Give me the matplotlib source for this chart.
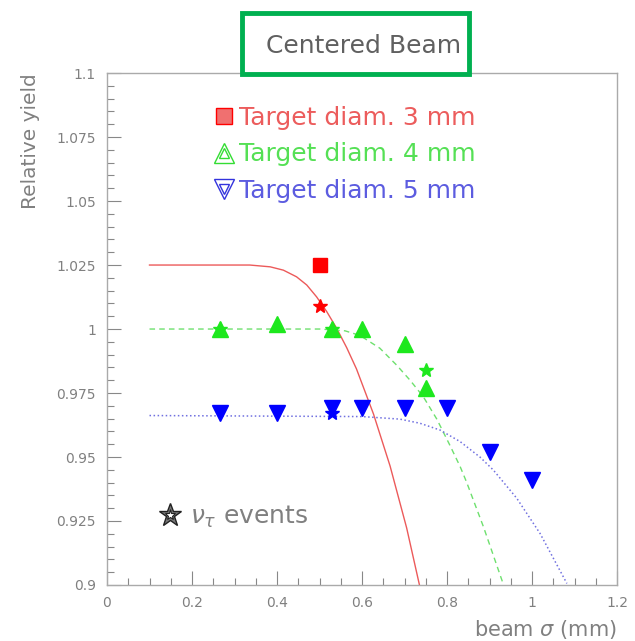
import matplotlib
matplotlib.use("Agg")
import matplotlib.pyplot as plt
from matplotlib.lines import Line2D
from matplotlib.patches import Rectangle
from matplotlib.ticker import MultipleLocator, FormatStrFormatter
from matplotlib.legend_handler import HandlerTuple

plt.rcParams['font.family'] = ['DejaVu Sans']

# measured points (beam sigma in mm, relative yield)
d3_x = [0.50]
d3_y = [1.025]
d3_star_x = [0.50]
d3_star_y = [1.009]

d4_x = [0.265, 0.40, 0.53, 0.60, 0.70, 0.75]
d4_y = [1.000, 1.002, 1.000, 1.000, 0.994, 0.977]
d4_star_x = [0.265, 0.53, 0.75]
d4_star_y = [1.000, 1.000, 0.984]

d5_x = [0.265, 0.40, 0.53, 0.60, 0.70, 0.80, 0.90, 1.00]
d5_y = [0.967, 0.967, 0.969, 0.969, 0.969, 0.969, 0.952, 0.941]
d5_star_x = [0.53]
d5_star_y = [0.967]

# fitted curves
fit3_x = [0.10, 0.336, 0.384, 0.415, 0.446, 0.470, 0.493, 0.517, 0.540, 0.564,
          0.587, 0.627, 0.666, 0.705, 0.735]
fit3_y = [1.025, 1.025, 1.0243, 1.023, 1.0204, 1.0172, 1.0126, 1.0068, 1.0004, 0.9927,
          0.9844, 0.9668, 0.9465, 0.9223, 0.9001]

fit4_x = [0.10, 0.50, 0.56, 0.595, 0.642, 0.682, 0.713, 0.744, 0.776, 0.807,
          0.831, 0.846, 0.886, 0.932]
fit4_y = [1.000, 1.000, 0.9993, 0.9975, 0.9925, 0.9858, 0.980, 0.9736, 0.9648, 0.9545,
          0.9462, 0.9402, 0.9226, 0.9005]

fit5_x = [0.10, 0.60, 0.689, 0.736, 0.784, 0.831, 0.878, 0.909, 0.964, 1.019, 1.082]
fit5_y = [0.9662, 0.9658, 0.9648, 0.9632, 0.9605, 0.9560, 0.9499, 0.9449, 0.9339,
          0.9201, 0.9006]

c_red, c_green, c_blue = '#ff0000', '#1ee81e', '#0000ff'

fig = plt.figure(figsize=(6.35, 6.41), dpi=100)
ax = fig.add_axes([0.1685, 0.0874, 0.8032, 0.7986])

ax.plot(fit3_x, fit3_y, '-', color='#ec5a5a', lw=1.0)
ax.plot(fit4_x, fit4_y, '--', color='#6ee06e', lw=1.0, dashes=(4, 3))
ax.plot(fit5_x, fit5_y, ':', color='#7070e0', lw=1.1)

ax.plot(d3_x, d3_y, 's', color=c_red, ms=10, ls='none')
ax.plot(d4_x, d4_y, '^', color=c_green, ms=11, ls='none')
ax.plot(d5_x, d5_y, 'v', color=c_blue, ms=11, ls='none')
ax.plot(d3_star_x, d3_star_y, '*', color=c_red, ms=10, ls='none')
ax.plot(d4_star_x, d4_star_y, '*', color=c_green, ms=10, ls='none')
ax.plot(d5_star_x, d5_star_y, '*', color=c_blue, ms=10, ls='none')

ax.set_xlim(0, 1.2)
ax.set_ylim(0.9, 1.1)
ax.xaxis.set_major_locator(MultipleLocator(0.2))
ax.xaxis.set_minor_locator(MultipleLocator(0.05))
ax.yaxis.set_major_locator(MultipleLocator(0.025))
ax.yaxis.set_minor_locator(MultipleLocator(0.005))
ax.xaxis.set_major_formatter(FormatStrFormatter('%g'))
ax.yaxis.set_major_formatter(FormatStrFormatter('%g'))
ax.tick_params(which='both', direction='in', colors='#888888', labelcolor='#808080',
               labelsize=10, top=False, right=False)
ax.tick_params(which='major', length=10, width=0.8, pad=8)
ax.tick_params(which='minor', length=5, width=0.8)
for s in ax.spines.values():
    s.set_color('#aaaaaa')
    s.set_linewidth(1.0)

ax.set_ylabel('Relative yield', color='#808080', fontsize=14.5, loc='top', labelpad=12)
ax.set_xlabel(r'beam $\sigma$ (mm)', color='#808080', fontsize=15, loc='right', labelpad=6)

labels = ['Target diam. 3 mm', 'Target diam. 4 mm', 'Target diam. 5 mm']
h3 = Line2D([], [], marker='s', ls='none', ms=11, mfc='#f07070', mec=c_red, mew=1)
h4 = (Line2D([], [], marker='^', ls='none', ms=14, mfc='white', mec='#33dd33', mew=1),
      Line2D([], [], marker='^', ls='none', ms=7, mfc='white', mec='#33dd33', mew=1))
h5 = (Line2D([], [], marker='v', ls='none', ms=14, mfc='white', mec='#3333dd', mew=1),
      Line2D([], [], marker='v', ls='none', ms=7, mfc='white', mec='#3333dd', mew=1))
leg = ax.legend([h3, h4, h5], labels, loc='upper left', bbox_to_anchor=(0.165, 0.98),
                frameon=False, fontsize=18, handlelength=0.8, handletextpad=0.2,
                labelspacing=0.5, handler_map={tuple: HandlerTuple(ndivide=1)})
for t, c in zip(leg.get_texts(), ['#ec5c5c', '#55e055', '#5c5ce0']):
    t.set_color(c)
ax.add_artist(leg)

hs = (Line2D([], [], marker='*', ls='none', ms=17, mfc='#777777', mec='#222222', mew=1),
      Line2D([], [], marker='*', ls='none', ms=8, mfc='white', mec='#222222', mew=0.8))
leg2 = ax.legend([hs], [r'$\nu_\tau$ events'], loc='center left', bbox_to_anchor=(0.06, 0.133),
                 frameon=False, fontsize=18, handlelength=0.8, handletextpad=0.4,
                 handler_map={tuple: HandlerTuple(ndivide=1)})
leg2.get_texts()[0].set_color('#808080')

fig.text(0.572, 0.929, 'Centered Beam', ha='center', va='center', fontsize=18, color='#606060')
fig.patches.append(Rectangle((0.381, 0.885), 0.358, 0.094, transform=fig.transFigure,
                             fill=False, edgecolor='#00b050', lw=3.5))

fig.savefig('out.png', dpi=100, facecolor='white')
